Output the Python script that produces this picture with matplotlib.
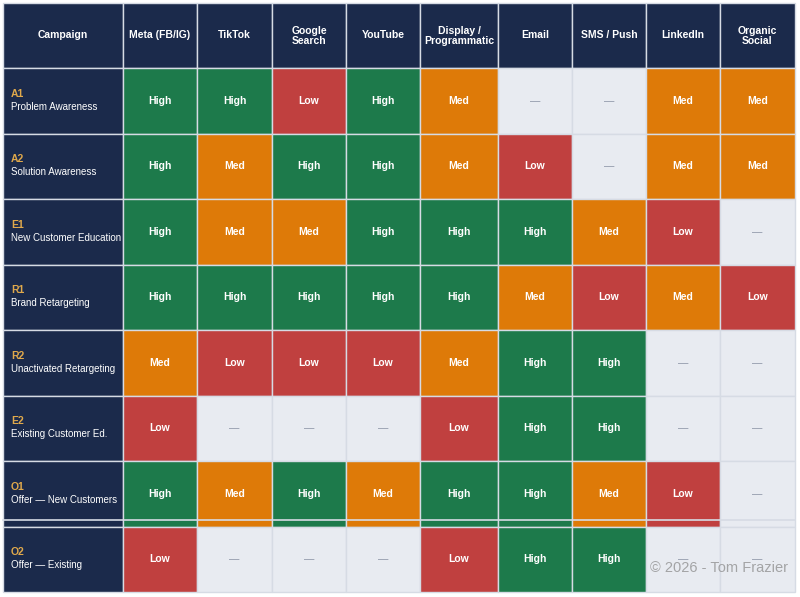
import matplotlib.pyplot as plt
from matplotlib.patches import Rectangle

plt.rcParams['font.family'] = ['Liberation Sans', 'DejaVu Sans']

# ---- data ----
codes = ["A1", "A2", "E1", "R1", "R2", "E2", "O1", "O2"]
names = ["Problem Awareness", "Solution Awareness", "New Customer Education",
         "Brand Retargeting", "Unactivated Retargeting", "Existing Customer Ed.",
         "Offer — New Customers", "Offer — Existing"]
channels = ["Meta (FB/IG)", "TikTok", "Google\nSearch", "YouTube",
            "Display /\nProgrammatic", "Email", "SMS / Push", "LinkedIn",
            "Organic\nSocial"]
ratings = [
    ["High", "High", "Low",  "High", "Med",  "—",    "—",    "Med", "Med"],
    ["High", "Med",  "High", "High", "Med",  "Low",  "—",    "Med", "Med"],
    ["High", "Med",  "Med",  "High", "High", "High", "Med",  "Low", "—"],
    ["High", "High", "High", "High", "High", "Med",  "Low",  "Med", "Low"],
    ["Med",  "Low",  "Low",  "Low",  "Med",  "High", "High", "—",   "—"],
    ["Low",  "—",    "—",    "—",    "Low",  "High", "High", "—",   "—"],
    ["High", "Med",  "High", "Med",  "High", "High", "Med",  "Low", "—"],
    ["Low",  "—",    "—",    "—",    "Low",  "High", "High", "—",   "—"],
]

# ---- styles ----
NAVY = "#1b2a4b"
fills = {"High": "#1d7a4b", "Med": "#de7a08", "Low": "#c0403f", "—": "#e8ebf1"}
text_col = {"High": "white", "Med": "white", "Low": "white", "—": "#8a93a5"}
GOLD = "#e0a94b"
LINE = "#d6dbe4"

# column / row edges in pixels
col_edges = [3, 123, 197, 272, 346, 420, 498, 572, 646, 720, 795]
header_top, header_bot = 3, 68
row_h = 65.5

fig = plt.figure(figsize=(8, 5.97), dpi=100)
ax = fig.add_axes([0, 0, 1, 1])
ax.set_xlim(0, 800)
ax.set_ylim(597, 0)
ax.axis("off")

def cell(x0, x1, y0, y1, color):
    ax.add_patch(Rectangle((x0, y0), x1 - x0, y1 - y0, facecolor=color,
                           edgecolor=LINE, linewidth=1.0))

# header row
headers = ["Campaign"] + channels
for j, h in enumerate(headers):
    x0, x1 = col_edges[j], col_edges[j + 1]
    cell(x0, x1, header_top, header_bot, NAVY)
    ax.text((x0 + x1) / 2, (header_top + header_bot) / 2, h, color="white",
            fontsize=7.5, fontweight="bold", ha="center", va="center",
            linespacing=1.0)

# body rows
for i, (code, name) in enumerate(zip(codes, names)):
    y0 = header_bot + i * row_h
    y1 = y0 + row_h
    cy = (y0 + y1) / 2
    cell(col_edges[0], col_edges[1], y0, y1, NAVY)
    ax.text(11, cy - 7, code, color=GOLD, fontsize=7.5, fontweight="bold",
            ha="left", va="center")
    ax.text(11, cy + 6, name, color="white", fontsize=7,
            ha="left", va="center")
    for j, r in enumerate(ratings[i]):
        x0, x1 = col_edges[j + 1], col_edges[j + 2]
        cell(x0, x1, y0, y1, fills[r])
        ax.text((x0 + x1) / 2, cy, r, color=text_col[r], fontsize=7.5,
                fontweight="bold" if r != "—" else "normal",
                ha="center", va="center")

# thin seam above the last row
seam_y = header_bot + 7 * row_h - 6.5
ax.plot([col_edges[0], col_edges[-1]], [seam_y, seam_y], color=LINE, lw=1.2)

# watermark
ax.text(788, 568, "© 2026 - Tom Frazier", color="#8c8c8c", alpha=0.75,
        fontsize=10.5, ha="right", va="center")

fig.savefig("out.png", dpi=100, facecolor="white")
